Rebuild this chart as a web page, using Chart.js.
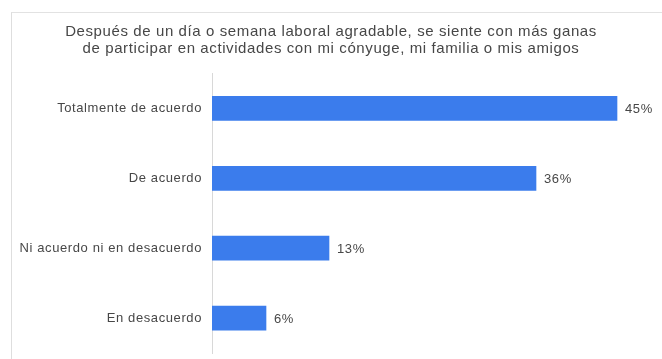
<!DOCTYPE html>
<html>
<head>
<meta charset="utf-8">
<script src="https://cdn.jsdelivr.net/npm/chart.js@4"></script>
<style>
  html, body { margin: 0; padding: 0; background: #ffffff; }
  #wrap { position: relative; width: 662px; height: 359px; }
  #c { display: block; }
  #frame { position: absolute; left: 11px; top: 12px; right: 0; bottom: 0;
           border-top: 1px solid #e2e2e2; border-left: 1px solid #dedede; pointer-events: none; }
</style>
</head>
<body>
<div id="wrap">
  <canvas id="c" width="662" height="359"></canvas>
  <div id="frame"></div>
</div>
<script>
const titleLines = [
  'Después de un día o semana laboral agradable, se siente con más ganas',
  'de participar en actividades con mi cónyuge, mi familia o mis amigos'
];
const categories = ['Totalmente de acuerdo', 'De acuerdo', 'Ni acuerdo ni en desacuerdo', 'En desacuerdo'];
const values = [45, 36, 13, 6];
const valueLabels = ['45%', '36%', '13%', '6%'];

const FONT = '"Liberation Sans", Arial, sans-serif';
const TEXT = '#474747';

// slightly loose tracking for all chart text
const textTracking = {
  id: 'textTracking',
  beforeDraw(chart) { chart.ctx.letterSpacing = '0.6px'; }
};

// writes each bar's percentage just past its end
const barValueLabels = {
  id: 'barValueLabels',
  afterDatasetsDraw(chart) {
    const ctx = chart.ctx;
    const meta = chart.getDatasetMeta(0);
    ctx.save();
    ctx.font = '13px ' + FONT;
    ctx.fillStyle = TEXT;
    ctx.textAlign = 'left';
    ctx.textBaseline = 'middle';
    meta.data.forEach((bar, i) => {
      ctx.fillText(valueLabels[i], bar.x + 8, bar.y + 1);
    });
    ctx.restore();
  }
};

new Chart(document.getElementById('c'), {
  type: 'bar',
  data: {
    labels: categories,
    datasets: [{
      data: values,
      backgroundColor: '#3b7cec',
      barThickness: 24,
      borderWidth: 0
    }]
  },
  options: {
    indexAxis: 'y',
    responsive: false,
    animation: false,
    devicePixelRatio: 1,
    layout: { padding: { left: 0, right: 0, top: 0, bottom: 6 } },
    plugins: {
      legend: { display: false },
      tooltip: { enabled: false },
      title: {
        display: true,
        text: titleLines,
        color: TEXT,
        font: { family: FONT, size: 15, weight: 'normal', lineHeight: 1.15 },
        padding: { top: 23, bottom: 16 }
      }
    },
    scales: {
      x: { display: false, min: 0, max: 50 },
      y: {
        grid: { display: false, drawTicks: false },
        border: { display: true, color: '#d8d8d8', width: 1 },
        ticks: { color: TEXT, padding: 10, font: { family: FONT, size: 13 } },
        afterFit(scale) {
          scale.width = 212;
          // labels sit mid-band, so no overflow room is needed above or below
          scale.paddingTop = 0;
          scale.paddingBottom = 0;
        }
      }
    }
  },
  plugins: [textTracking, barValueLabels]
});
</script>
</body>
</html>
